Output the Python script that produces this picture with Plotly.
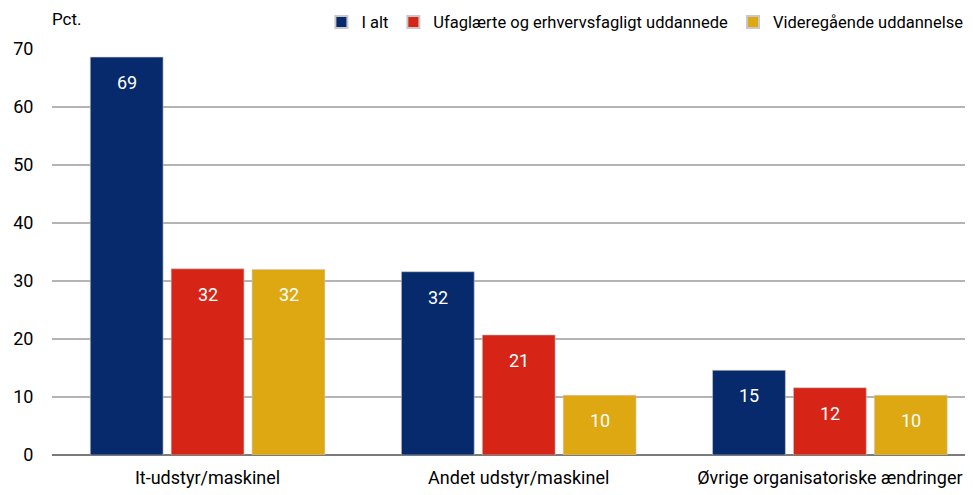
import plotly.graph_objects as go

categories = ["It-udstyr/maskinel", "Andet udstyr/maskinel", "Øvrige organisatoriske ændringer"]
series_names = ["I alt", "Ufaglærte og erhvervsfagligt uddannede", "Videregående uddannelse"]
i_alt = [68.6, 31.6, 14.6]
ufaglaerte = [32.1, 20.7, 11.6]
videregaaende = [32.0, 10.3, 10.3]
y_ticks = [0, 10, 20, 30, 40, 50, 60, 70]

colors = ["#062a6b", "#d62516", "#dea813"]
FONT = "Roboto"

fig = go.Figure()
all_series = [i_alt, ufaglaerte, videregaaende]
for name, vals, col in zip(series_names, all_series, colors):
    fig.add_trace(go.Bar(
        x=categories, y=vals, name=name,
        marker=dict(color=col, line=dict(color="#c8c8c8", width=0.6)),
        hoverinfo="skip",
    ))

shifts = [-81, 0, 81]
for vals, sh in zip(all_series, shifts):
    for c, v in zip(categories, vals):
        fig.add_annotation(x=c, y=v, xref="x", yref="y", text=f"{v:.0f}",
                           showarrow=False, xshift=sh, yanchor="top", yshift=-13,
                           font=dict(family=FONT, size=18, color="white"))

fig.add_annotation(x=0, y=1, xref="paper", yref="paper", text="Pct.",
                   showarrow=False, xanchor="left", yanchor="bottom", yshift=18, xshift=-2,
                   font=dict(family=FONT, size=17, color="#000"))

fig.update_layout(
    width=965, height=487,
    margin=dict(l=44, r=0, t=41, b=40, autoexpand=False),
    paper_bgcolor="white", plot_bgcolor="white",
    barmode="group", bargap=0.22, bargroupgap=0.1,
    font=dict(family=FONT, size=17, color="#000"),
    showlegend=True,
    legend=dict(orientation="h", x=0.995, xanchor="right", y=1.066, yanchor="middle",
                yref="paper", font=dict(family=FONT, size=16.5), itemwidth=30,
                traceorder="normal", itemsizing="constant", tracegroupgap=0),
    xaxis=dict(range=[-0.5, 2.46], showgrid=False, ticks="outside", ticklen=6,
               tickcolor="rgba(0,0,0,0)", showline=False, zeroline=False,
               tickfont=dict(size=18)),
    yaxis=dict(range=[0, 70], tickvals=y_ticks, showgrid=True, gridcolor="#b4b4b4",
               gridwidth=2, zeroline=True, zerolinecolor="#7a7a7a", zerolinewidth=2,
               ticks="outside", ticklen=14, tickcolor="rgba(0,0,0,0)", showline=False,
               tickfont=dict(size=18)),
)

fig.write_html("out.html")
